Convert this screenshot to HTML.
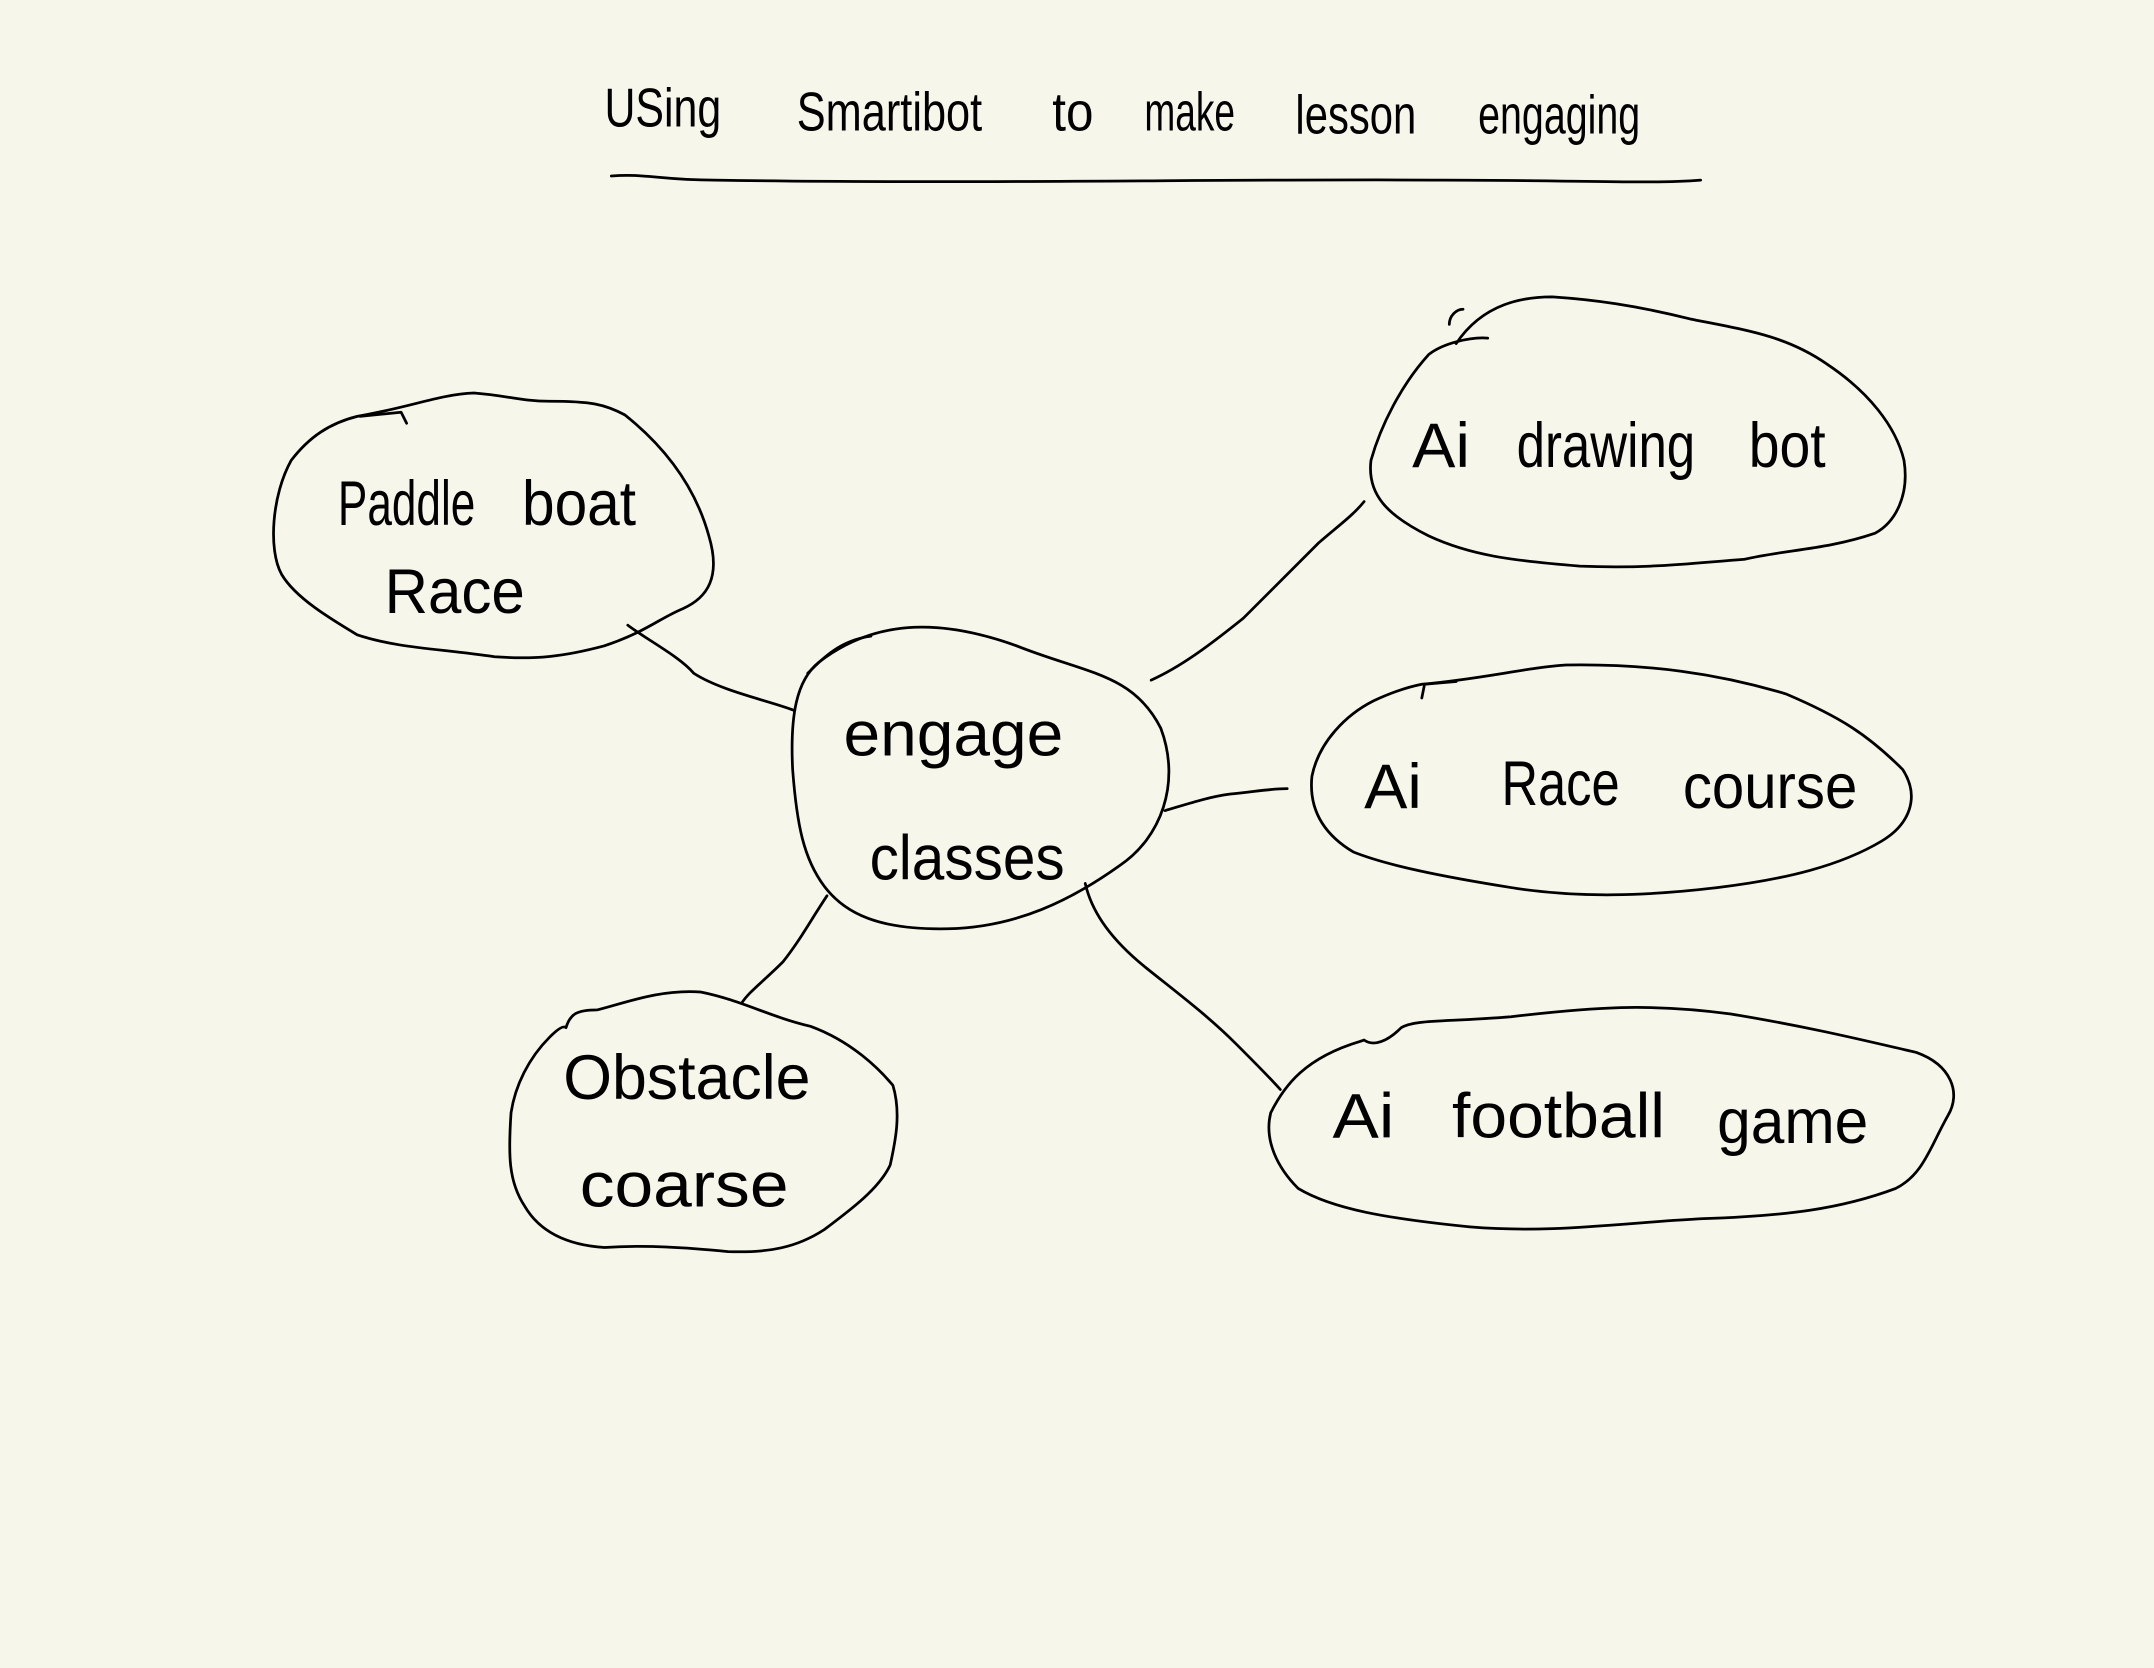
<!DOCTYPE html>
<html><head><meta charset="utf-8"><style>
html,body{margin:0;padding:0;background:#f7f6ea;}
svg{display:block;}
text{font-family:"Liberation Sans Narrow","Liberation Sans",sans-serif;fill:#000;}
</style></head><body>
<svg width="2154" height="1668" viewBox="0 0 1568 1214" xmlns="http://www.w3.org/2000/svg">
<rect width="1568" height="1214" fill="#f7f6ea"/>
<g fill="none" stroke="#000" stroke-width="2" stroke-linecap="round" stroke-linejoin="round">
<!-- title underline -->
<path d="M445,128 C470,126 480,131 520,131 C700,134 900,130 1050,131 C1150,131 1200,134 1238,131"/>
<!-- Paddle boat blob -->
<path d="M260,303 C300,296 320,287 345,286 C370,288 380,292 400,292 C430,292 440,294 455,302 C480,322 505,350 516,390 C525,420 515,435 497,443 C480,450 470,460 440,470 C410,478 390,480 360,478 C320,472 290,472 260,462 C240,450 215,435 205,418 C195,400 198,360 212,335 C225,318 240,308 260,303 Z"/>
<path d="M262,303 L292,300 L296,308"/>
<!-- center blob -->
<path d="M596,482 C640,448 690,452 740,470 C790,490 825,490 845,530 C860,570 845,610 815,630 C780,655 740,675 690,676 C640,677 615,665 600,645 C585,625 580,600 577,560 C575,520 580,495 596,482 Z"/>
<path d="M588,490 C600,478 612,466 634,463"/>
<!-- Ai drawing bot blob -->
<path d="M1060,250 C1080,220 1110,216 1130,216 C1160,218 1190,222 1230,232 C1270,240 1300,244 1330,265 C1360,285 1380,310 1386,335 C1390,360 1380,380 1365,388 C1330,400 1300,400 1270,407 C1230,410 1200,414 1150,412 C1100,408 1070,404 1040,390 C1010,375 995,360 998,335 C1005,310 1020,280 1040,258 C1050,250 1070,245 1083,246"/>
<path d="M1055,236 C1055,230 1060,225 1065,225"/>
<!-- Ai Race course blob -->
<path d="M1035,498 C1080,494 1110,486 1140,484 C1200,483 1250,490 1300,505 C1340,522 1360,535 1385,560 C1398,580 1390,600 1370,612 C1340,630 1300,640 1250,646 C1200,652 1150,654 1100,646 C1050,638 1010,630 985,620 C960,605 953,585 955,565 C960,540 980,520 1000,510 C1015,503 1025,500 1035,498 Z"/>
<path d="M1035,508 L1037,498 L1060,496"/>
<!-- Ai football game blob -->
<path d="M993,757 C1000,762 1010,758 1020,748 C1030,742 1050,744 1100,740 C1160,733 1200,730 1260,738 C1320,748 1360,758 1395,766 C1420,775 1428,795 1418,812 C1405,835 1400,855 1380,865 C1340,880 1300,885 1240,887 C1180,890 1130,898 1070,893 C1010,887 970,880 945,865 C930,850 920,830 925,810 C935,790 950,770 990,758 Z"/>
<!-- Obstacle coarse blob -->
<path d="M412,748 C415,738 420,735 435,735 C455,730 480,720 510,722 C540,728 560,740 590,747 C620,758 640,778 650,790 C656,810 652,830 648,848 C640,865 620,880 600,895 C580,908 560,912 530,911 C500,908 470,906 440,908 C410,906 392,895 382,878 C370,860 370,840 372,810 C375,790 385,770 400,755 C405,750 410,746 412,748 Z"/>
<!-- connectors -->
<path d="M457,455 C470,465 495,478 505,490 C525,503 560,510 578,517"/>
<path d="M838,495 C860,485 880,470 905,450 C925,430 945,410 960,395 C975,382 985,375 993,365"/>
<path d="M848,590 C865,585 880,580 895,578 C915,576 925,574 937,574"/>
<path d="M790,643 C795,665 810,685 835,705 C860,725 880,740 900,760 C915,775 925,785 932,793"/>
<path d="M602,652 C590,670 582,685 570,700 C555,715 545,722 540,730"/>
</g>
<g font-size="40">
<text x="440" y="92" textLength="85" lengthAdjust="spacingAndGlyphs">USing</text>
<text x="580" y="95" textLength="135" lengthAdjust="spacingAndGlyphs">Smartibot</text>
<text x="766" y="95" textLength="30" lengthAdjust="spacingAndGlyphs">to</text>
<text x="833" y="95" textLength="66" lengthAdjust="spacingAndGlyphs">make</text>
<text x="943" y="97" textLength="88" lengthAdjust="spacingAndGlyphs">lesson</text>
<text x="1076" y="97" textLength="118" lengthAdjust="spacingAndGlyphs">engaging</text>
</g>
<g font-size="46">
<text x="246" y="382" textLength="100" lengthAdjust="spacingAndGlyphs">Paddle</text>
<text x="380" y="382" textLength="83" lengthAdjust="spacingAndGlyphs">boat</text>
<text x="280" y="446" textLength="102" lengthAdjust="spacingAndGlyphs">Race</text>
<text x="614" y="550" textLength="160" lengthAdjust="spacingAndGlyphs">engage</text>
<text x="633" y="640" textLength="142" lengthAdjust="spacingAndGlyphs">classes</text>
<text x="1028" y="340" textLength="42" lengthAdjust="spacingAndGlyphs">Ai</text>
<text x="1104" y="340" textLength="130" lengthAdjust="spacingAndGlyphs">drawing</text>
<text x="1273" y="340" textLength="56" lengthAdjust="spacingAndGlyphs">bot</text>
<text x="993" y="588" textLength="42" lengthAdjust="spacingAndGlyphs">Ai</text>
<text x="1093" y="586" textLength="86" lengthAdjust="spacingAndGlyphs">Race</text>
<text x="1225" y="588" textLength="127" lengthAdjust="spacingAndGlyphs">course</text>
<text x="970" y="828" textLength="45" lengthAdjust="spacingAndGlyphs">Ai</text>
<text x="1057" y="828" textLength="155" lengthAdjust="spacingAndGlyphs">football</text>
<text x="1250" y="832" textLength="110" lengthAdjust="spacingAndGlyphs">game</text>
<text x="410" y="800" textLength="180" lengthAdjust="spacingAndGlyphs">Obstacle</text>
<text x="422" y="878" textLength="152" lengthAdjust="spacingAndGlyphs">coarse</text>
</g>
</svg>
</body></html>
